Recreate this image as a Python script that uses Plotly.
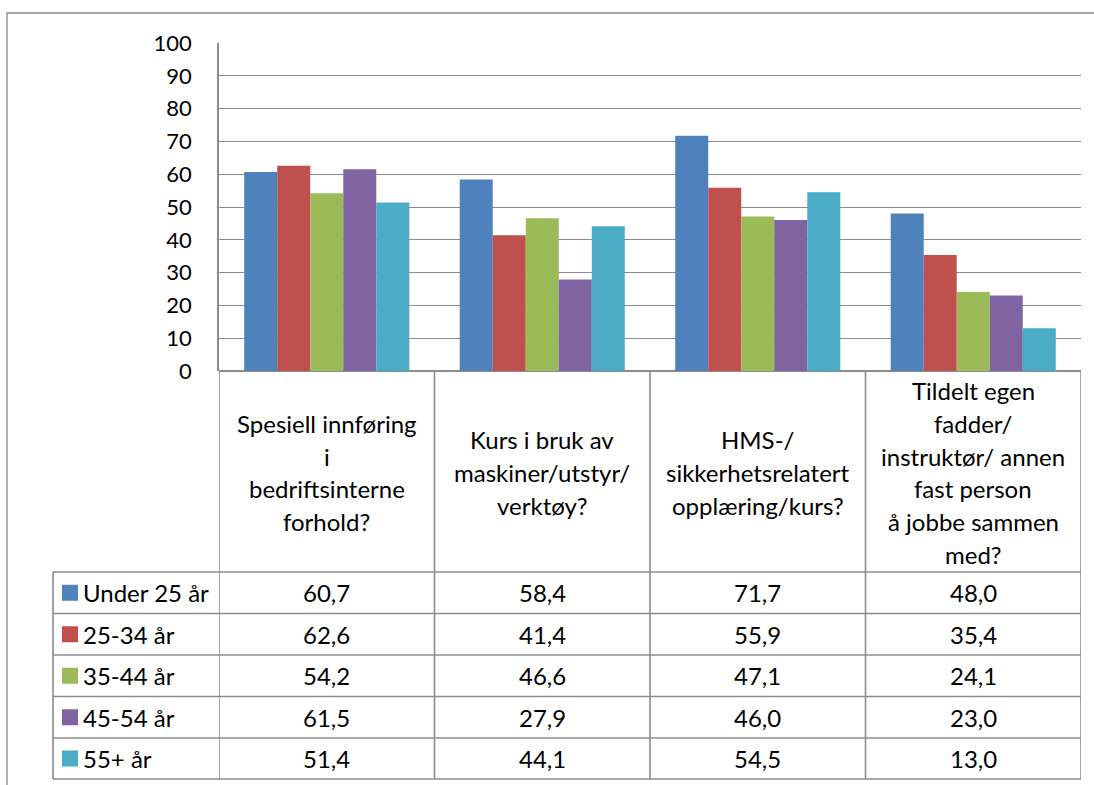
import plotly.graph_objects as go

# Survey data: share (%) by age group for each type of onboarding
categories = [
    "Spesiell innføring<br>i<br>bedriftsinterne<br>forhold?",
    "Kurs i bruk av<br>maskiner/utstyr/<br>verktøy?",
    "HMS-/<br>sikkerhetsrelatert<br>opplæring/kurs?",
    "Tildelt egen<br>fadder/<br>instruktør/ annen<br>fast person<br>å jobbe sammen<br>med?",
]
series_names = ["Under 25 år", "25-34 år", "35-44 år", "45-54 år", "55+ år"]
under_25 = [60.7, 58.4, 71.7, 48.0]
age_25_34 = [62.6, 41.4, 55.9, 35.4]
age_35_44 = [54.2, 46.6, 47.1, 24.1]
age_45_54 = [61.5, 27.9, 46.0, 23.0]
age_55_plus = [51.4, 44.1, 54.5, 13.0]
y_ticks = [0, 10, 20, 30, 40, 50, 60, 70, 80, 90, 100]

series_values = [under_25, age_25_34, age_35_44, age_45_54, age_55_plus]
colors = ["#4F81BD", "#C0504D", "#9BBB59", "#8064A2", "#4BACC6"]

W, H = 1094, 785
L, R, T, B = 219, 1081, 43, 371
FONT = "Lato, Calibri, sans-serif"
FS = 24
FS_TICK = 22
LINE = "#8c8c8c"


def px(x):
    return (x - L) / (R - L)


def py(y):
    return (B - y) / (B - T)


x_idx = list(range(len(categories)))

fig = go.Figure()
for name, vals, col in zip(series_names, series_values, colors):
    fig.add_trace(go.Bar(x=x_idx, y=vals, name=name, marker_color=col,
                         marker_line_width=0, showlegend=False))

shapes = []
annotations = []

# outer chart border
shapes.append(dict(type="rect", xref="paper", yref="paper",
                   x0=px(7), x1=px(1110), y0=py(800), y1=py(13),
                   line=dict(color="#8a8a8a", width=1.3)))

# data table grid
row_lines = [572, 613.5, 655, 696.5, 738, 779]
for yl in row_lines:
    shapes.append(dict(type="line", xref="paper", yref="paper",
                       x0=px(53), x1=px(R), y0=py(yl), y1=py(yl),
                       line=dict(color=LINE, width=1.6)))
shapes.append(dict(type="line", xref="paper", yref="paper",
                   x0=px(53), x1=px(53), y0=py(572), y1=py(779),
                   line=dict(color=LINE, width=1.6)))
for i in range(len(categories) + 1):
    shapes.append(dict(type="line", xref="x", yref="paper",
                       x0=i - 0.5, x1=i - 0.5, y0=py(B), y1=py(779),
                       line=dict(color=LINE, width=1.6)))

# header cells: category labels, vertically centred
header_mid = (B + 572) / 2 + 1
line_step = 32.8
for i, cat in enumerate(categories):
    parts = cat.split("<br>")
    n = len(parts)
    for k, part in enumerate(parts):
        yc = header_mid + (k - (n - 1) / 2) * line_step
        annotations.append(dict(x=i, y=py(yc), xref="x", yref="paper",
                                text=part, showarrow=False,
                                xanchor="center", yanchor="middle",
                                font=dict(family=FONT, size=FS, color="#000")))

# table rows: legend key + values
for r, (name, vals, col) in enumerate(zip(series_names, series_values, colors)):
    yc = (row_lines[r] + row_lines[r + 1]) / 2
    shapes.append(dict(type="rect", xref="paper", yref="paper",
                       x0=px(62), x1=px(78), y0=py(yc + 8), y1=py(yc - 8),
                       fillcolor=col, line=dict(width=0)))
    annotations.append(dict(x=px(81), y=py(yc), xref="paper", yref="paper",
                            text=name, showarrow=False,
                            xanchor="left", yanchor="middle",
                            font=dict(family=FONT, size=FS, color="#000")))
    for i, v in enumerate(vals):
        annotations.append(dict(x=i, y=py(yc), xref="x", yref="paper",
                                text=f"{v:.1f}".replace(".", ","),
                                showarrow=False,
                                xanchor="center", yanchor="middle",
                                font=dict(family=FONT, size=FS, color="#000")))

fig.update_layout(
    width=W, height=H,
    margin=dict(l=L, r=W - R, t=T, b=H - B, pad=0),
    paper_bgcolor="white", plot_bgcolor="white",
    barmode="group", bargap=0.234, bargroupgap=0,
    shapes=shapes, annotations=annotations,
    xaxis=dict(range=[-0.5, len(categories) - 0.5], showticklabels=False,
               showgrid=False, zeroline=False, showline=False, ticks=""),
    yaxis=dict(range=[0, 100], tickvals=y_ticks, showgrid=True,
               gridcolor=LINE, gridwidth=1.4, zeroline=True,
               zerolinecolor=LINE, zerolinewidth=1.6,
               showline=True, linecolor=LINE, linewidth=1.6,
               ticks="", ticklabelstandoff=21,
               tickfont=dict(family=FONT, size=FS_TICK, color="#000")),
)

fig.write_html("out.html")
